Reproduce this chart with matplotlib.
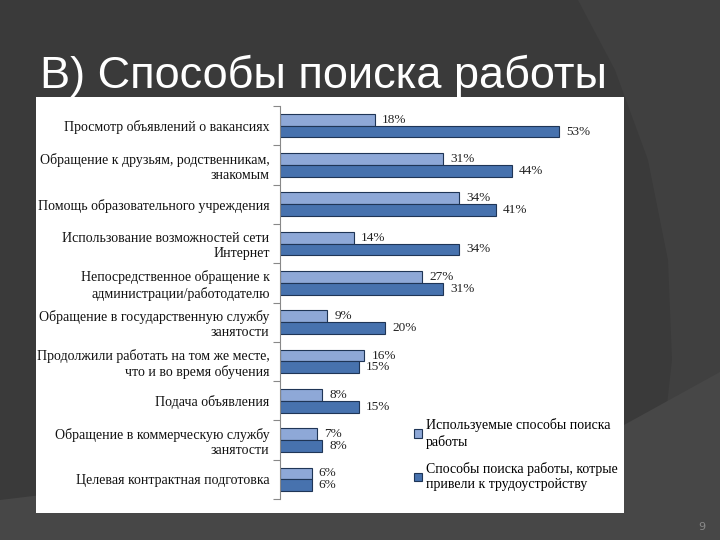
import matplotlib
matplotlib.use("Agg")
import matplotlib.pyplot as plt
from matplotlib.patches import Polygon, Rectangle
from matplotlib import font_manager
import numpy as np

categories = [
    "Просмотр объявлений о вакансиях",
    "Обращение к друзьям, родственникам,\nзнакомым",
    "Помощь образовательного учреждения",
    "Использование возможностей сети\nИнтернет",
    "Непосредственное обращение к\nадминистрации/работодателю",
    "Обращение в государственную службу\nзанятости",
    "Продолжили работать на том же месте,\nчто и во время обучения",
    "Подача объявления",
    "Обращение в коммерческую службу\nзанятости",
    "Целевая контрактная подготовка",
]
used = [18, 31, 34, 14, 27, 9, 16, 8, 7, 6]
led = [53, 44, 41, 34, 31, 20, 15, 15, 8, 6]
series_names = ["Используемые способы поиска\nработы",
                "Способы поиска работы, котрые\nпривели к трудоустройству"]
title = "В) Способы поиска работы"

installed = {f.name for f in font_manager.fontManager.ttflist}
if "Liberation Sans Narrow" in installed:
    title_family, title_size = "Liberation Sans Narrow", 39
else:
    title_family, title_size = "Liberation Sans", 32.5

W, H = 720, 540
fig = plt.figure(figsize=(7.2, 5.4), dpi=100, facecolor="#3a3a3a")

# background decoration
bg = fig.add_axes([0, 0, 1, 1])
bg.set_xlim(0, W); bg.set_ylim(H, 0); bg.axis("off")
bg.add_patch(Polygon([(578, 0), (615, 70), (648, 160), (668, 260), (672, 360),
                      (662, 450), (645, 540), (720, 540), (720, 0)], closed=True,
                     facecolor="#404040", edgecolor="none"))
bg.add_patch(Polygon([(0, 500), (624, 425), (720, 372), (720, 540), (0, 540)], closed=True,
                     facecolor="#474747", edgecolor="none"))
# white panel
bg.add_patch(Rectangle((36, 97), 588, 416, facecolor="white", edgecolor="none"))
bg.text(40, 88, title, color="white", fontsize=title_size, family=title_family,
        va="baseline", ha="left")
bg.text(702, 530, "9", color="#8a8a8a", fontsize=8, family="DejaVu Sans",
        ha="center", va="baseline")

# chart
ax = fig.add_axes([280 / W, 1 - 499 / H, (620 - 280) / W, (499 - 106) / H])
ax.patch.set_alpha(0)
n = len(categories)
y = np.arange(n) + 0.5
h = 0.3
c_light = "#8ea8d7"
c_dark = "#4772ae"
edge = "#1f3556"
b1 = ax.barh(y - h / 2, used, height=h, color=c_light, edgecolor=edge, linewidth=0.8,
             label=series_names[0])
b2 = ax.barh(y + h / 2, led, height=h, color=c_dark, edgecolor=edge, linewidth=0.8,
             label=series_names[1])
serif = "Liberation Serif"
for bars, vals in ((b1, used), (b2, led)):
    for rect, v in zip(bars, vals):
        ax.annotate(f"{v}%", (rect.get_width(), rect.get_y() + rect.get_height() / 2),
                    xytext=(5, 0), textcoords="offset points", va="center", ha="left",
                    fontsize=9.5, family=serif, color="#222222")

ax.set_xlim(0, 64.5)
ax.set_ylim(n, 0)
ax.set_yticks(np.arange(n + 1))
ax.set_yticklabels([])
ax.set_yticks(y, minor=True)
ax.set_yticklabels(categories, minor=True, fontsize=10, family=serif, color="#111111",
                   ha="right", linespacing=1.2)
ax.tick_params(axis="y", which="minor", length=0, pad=7.5)
ax.tick_params(axis="y", which="major", length=5, direction="out", color="#888888")
ax.set_xticks([])
for s in ("top", "right", "bottom"):
    ax.spines[s].set_visible(False)
ax.spines["left"].set_color("#888888")

leg = ax.legend(loc="lower left", bbox_to_anchor=((408 - 280) / 340, (499 - 497) / 393),
                frameon=False, prop={"family": serif, "size": 10},
                handlelength=0.6, handleheight=0.6, handletextpad=0.3,
                labelspacing=1.0, borderaxespad=0)

fig.savefig("out.png", dpi=100, facecolor=fig.get_facecolor())
